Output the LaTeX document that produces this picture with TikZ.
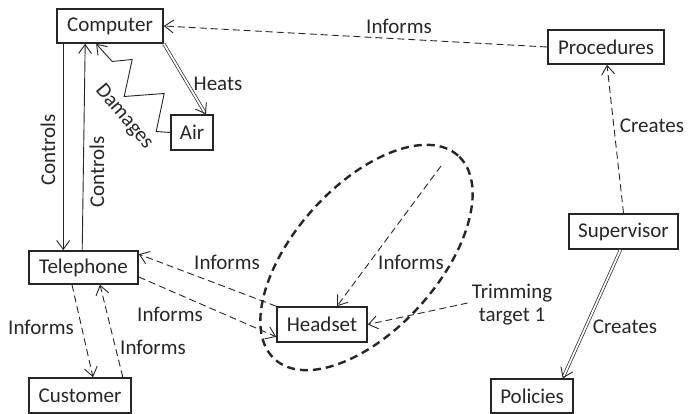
\documentclass[tikz,border=0pt]{standalone}
\usepackage{fontspec}
\setmainfont{Carlito}
\usetikzlibrary{arrows.meta}
\definecolor{ink}{HTML}{262626}
\begin{document}
\begin{tikzpicture}[x=1pt,y=-1pt,
  every node/.style={text=ink, font=\fontsize{21}{23}\selectfont},
  box/.style={draw=ink, line width=1.6pt, inner sep=0pt, minimum height=34pt},
  lbl/.style={inner sep=0pt},
  tip/.style={-{Straight Barb[length=9pt,width=13pt,line width=0.9pt]}},
  solidarr/.style={draw=ink, line width=0.9pt, tip},
  dasharr/.style={draw=ink, line width=0.9pt, dash pattern=on 7pt off 4pt, tip},
  dblarr/.style={draw=ink, line width=0.7pt, double, double distance=1.8pt,
    -{Straight Barb[length=9pt,width=13pt,line width=0.9pt]}},
  group/.style={draw=ink, line width=2.4pt, dash pattern=on 8pt off 5pt},
]
\useasboundingbox (0,0) rectangle (688,414);

% boxes
\node[box, minimum width=106pt] (computer)   at (110,26)    {Computer};
\node[box, minimum width=42pt, minimum height=35pt] (air) at (192,132.5) {Air};
\node[box, minimum width=109pt, minimum height=33pt] (telephone) at (83.5,267.5) {Telephone};
\node[box, minimum width=102pt, minimum height=35pt] (customer) at (80,395.5) {Customer};
\node[box, minimum width=90pt, minimum height=35pt] (headset) at (322,324.5) {Headset};
\node[box, minimum width=116pt] (procedures) at (606,47)    {Procedures};
\node[box, minimum width=109pt, minimum height=35pt] (supervisor) at (623.5,231.5) {Supervisor};
\node[box, minimum width=82pt] (policies)   at (532,396)    {Policies};

% dashed group around the headset
\coordinate (grp) at (366.5,257.5);
\draw[group, rotate around={48:(grp)}] (grp) ellipse [x radius=137pt, y radius=72pt];

% free ends inside the group
\coordinate (src) at (441,166);

% labels
\node[lbl, rotate=90] (lctrl1) at (48,150) {Controls};
\node[lbl, rotate=90] (lctrl2) at (97,172) {Controls};
\node[lbl] (lheats) at (218,84) {Heats};
\node[lbl, rotate=-50] (ldmg) at (124,117) {Damages};
\node[lbl] (linf0) at (399,26) {Informs};
\node[lbl] (lcre1) at (652,126) {Creates};
\node[lbl] (lcre2) at (625,327) {Creates};
\node[lbl] (linf1) at (227,262) {Informs};
\node[lbl] (linf2) at (170,314) {Informs};
\node[lbl] (linf3) at (411,262) {Informs};
\node[lbl] (linf4) at (41,327) {Informs};
\node[lbl] (linf5) at (153,347) {Informs};
\node[lbl, align=center] (trim) at (512,305) {Trimming\\target 1};

% connectors
\draw[solidarr] ([xshift=7pt]computer.south west) -- ([xshift=35pt]telephone.north west);
\draw[solidarr] ([xshift=54pt]telephone.north west) -- ([xshift=29pt]computer.south west);
\draw[dblarr] (computer.south east) -- ([xshift=-8pt]air.north east);
\draw[solidarr, line join=miter] (air.west) -- ++(-14,-1) -- ++(8,-38) -- ++(-40,3)
  -- ++(8,-37) -- ++(-20,2) -- ([xshift=40pt]computer.south west);
\draw[dasharr] (procedures.west) -- (computer.east);
\draw[dasharr] (supervisor.north) -- ([xshift=1pt]procedures.south);
\draw[dblarr] ([xshift=-3pt]supervisor.south) -- ([xshift=-11pt]policies.north east);
\draw[dasharr] (headset.north west) -- ([yshift=-4pt]telephone.north east);
\draw[dasharr] ([yshift=-9.5pt]telephone.east) -- ([yshift=6pt]headset.south west);
\draw[dasharr] (src) -- ([xshift=15pt]headset.north);
\draw[dasharr] ([xshift=-4pt,yshift=2pt]trim.west) -- (headset.east);
\draw[dasharr] ([xshift=-11.5pt]telephone.south) -- ([xshift=13pt]customer.north);
\draw[dasharr] ([xshift=-9pt]customer.north east) -- ([xshift=16.5pt]telephone.south);

\end{tikzpicture}
\end{document}
